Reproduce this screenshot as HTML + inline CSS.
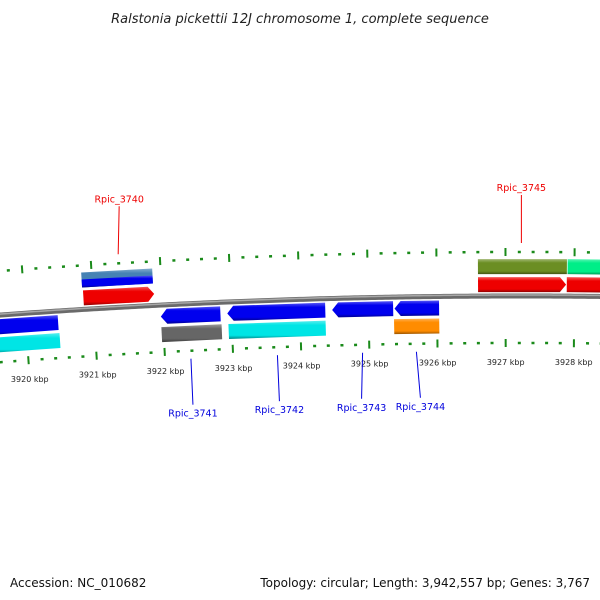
<!DOCTYPE html>
<html><head><meta charset="utf-8"><style>
html,body{margin:0;padding:0;background:#fff;}
svg{display:block;font-family:"DejaVu Sans","Liberation Sans",sans-serif;}
</style></head><body>
<svg id="map" width="600" height="600" viewBox="0 0 600 600">
<defs></defs>
<text x="300" y="23" text-anchor="middle" font-size="13" font-style="italic" fill="#222">Ralstonia pickettii 12J chromosome 1, complete sequence</text>
<g id="backbone"></g>
<g id="ticks"></g>
<g id="genes"></g>
<g id="labels"></g>
<text x="10" y="587" font-size="12" fill="#111">Accession: NC_010682</text>
<text x="590" y="587" font-size="12" fill="#111" text-anchor="end">Topology: circular; Length: 3,942,557 bp; Genes: 3,767</text>
</svg>
<script>
const tickStart = 3919.4, tickEnd = 3928.6, tickStep = 0.2;
const majorTicks = [3920,3921,3922,3923,3924,3925,3926,3927,3928];
const geneStarts = [3919.3,3919.3,3920.85,3920.85,3920.86,3921.97,3921.97,3922.94,3922.95,3924.47,3925.38,3925.37,3926.60,3926.60,3927.90,3927.89];
const geneEnds   = [3920.47,3920.48,3921.88,3921.88,3921.89,3922.84,3922.85,3924.37,3924.37,3925.36,3926.03,3926.03,3927.89,3927.88,3928.8,3928.8];
const geneRows   = [-1,-2,2,2.5,1,-1,-2,-1,-2,-1,-1,-2,2,1,2,1];
const geneArrow  = [0,0,0,0,1,-1,0,-1,0,-1,-1,0,0,1,0,1];
const geneColors = ["#0000ee","#00e5e5","#4682b4","#0000ee","#ee0000","#0000ee","#666666","#0000ee","#00e5e5","#0000ee","#0000ee","#ff8c00","#6b8e23","#ee0000","#00ee88","#ee0000"];
const labelNames = ["Rpic_3740","Rpic_3745","Rpic_3741","Rpic_3742","Rpic_3743","Rpic_3744"];
const labelPos   = [3921.4,3927.23,3922.38,3923.65,3924.9,3925.69];
const labelSide  = [1,1,-1,-1,-1,-1];
const labelShift = [1,0,2,2,-1,4];

const NS="http://www.w3.org/2000/svg";
const cx=520, R=7100, cy=296+R, kAng=0.009674, p0=3927.21;
function ang(p){return (p-p0)*kAng;}
function pt(p,r){const a=ang(p);return [cx+r*Math.sin(a), cy-r*Math.cos(a)];}
function mk(tag,attrs,parent){const e=document.createElementNS(NS,tag);for(const k in attrs)e.setAttribute(k,attrs[k]);parent.appendChild(e);return e;}

const bb=document.getElementById('backbone');
let d="";for(let p=3919.0;p<=3929.0;p+=0.05){const q=pt(p,R);d+=(d?"L":"M")+q[0].toFixed(2)+","+q[1].toFixed(2);}
let e=mk('path',{d:d,fill:'none',stroke:'#6a6a6a','stroke-width':5},bb);


e=mk('path',{d:d,fill:'none',stroke:'#a8a8a8','stroke-width':1.5,transform:'translate(0,-1)'},bb);



const tg=document.getElementById('ticks');
for(let i=0;;i++){const p=tickStart+i*tickStep;if(p>tickEnd+1e-6)break;
  const major=majorTicks.some(m=>Math.abs(m-p)<1e-6);
  [R+44,R-47].forEach(r=>{
    const len=major?8:2.5;const a=pt(p,r-len/2),b=pt(p,r+len/2);
    const t=mk('line',{x1:a[0],y1:a[1],x2:b[0],y2:b[1],stroke:'#1a8a1a','stroke-width':major?2:3},tg);
    
    
  });
}
majorTicks.forEach(m=>{const q=pt(m,R-66);
  const t=mk('text',{x:q[0],y:q[1]+3,'text-anchor':'middle','font-size':8,fill:'#222'},tg);
  t.textContent=m+" kbp";
  
  
});

const gg=document.getElementById('genes');
const rowR={1:[R+4,R+19],2:[R+22,R+37],2.5:[R+22,R+30],'-1':[R-19,R-4],'-2':[R-37,R-22]};
function shade(c,f){const n=parseInt(c.slice(1),16);let r=n>>16,g=(n>>8)&255,b=n&255;
  const m=v=>Math.max(0,Math.min(255,Math.round(f>0?v+(255-v)*f:v*(1+f))));return "rgb("+m(r)+","+m(g)+","+m(b)+")";}
const defs=document.querySelector('defs');
geneStarts.forEach((s,i)=>{
  const en=geneEnds[i];const [r0,r1]=rowR[geneRows[i]];const rm=(r0+r1)/2;const ah=0.09;
  let pts=[];
  if(geneArrow[i]===1){pts=[pt(s,r0),pt(en-ah,r0),pt(en,rm),pt(en-ah,r1),pt(s,r1)];}
  else if(geneArrow[i]===-1){pts=[pt(s+ah,r0),pt(en,r0),pt(en,r1),pt(s+ah,r1),pt(s,rm)];}
  else{pts=[pt(s,r0),pt(en,r0),pt(en,r1),pt(s,r1)];}
  const id='g'+i;
  const lg=mk('linearGradient',{id:id,x1:0,y1:0,x2:0,y2:1},defs);
  mk('stop',{offset:0,'stop-color':shade(geneColors[i],0.35)},lg);
  mk('stop',{offset:0.25,'stop-color':geneColors[i]},lg);
  mk('stop',{offset:0.8,'stop-color':geneColors[i]},lg);
  mk('stop',{offset:1,'stop-color':shade(geneColors[i],-0.4)},lg);
  const g=mk('polygon',{points:pts.map(q=>q[0].toFixed(2)+","+q[1].toFixed(2)).join(" "),fill:'url(#'+id+')'},gg);
  
  
});

const lgp=document.getElementById('labels');
labelNames.forEach((n,i)=>{
  const p=labelPos[i],s=labelSide[i];
  const a=s>0?pt(p,R+53):pt(p,R-55);
  const bx=a[0]+labelShift[i], by=s>0?a[1]-48:a[1]+46;
  const col=s>0?'#ee0000':'#0000dd';
  const l=mk('line',{x1:a[0],y1:a[1],x2:bx,y2:by,stroke:col,'stroke-width':1},lgp);
  
  
  const t=mk('text',{x:bx,y:s>0?by-4:by+12,'text-anchor':'middle','font-size':9.5,fill:col},lgp);
  t.textContent=n;
  
  
});
</script>
</body></html>
